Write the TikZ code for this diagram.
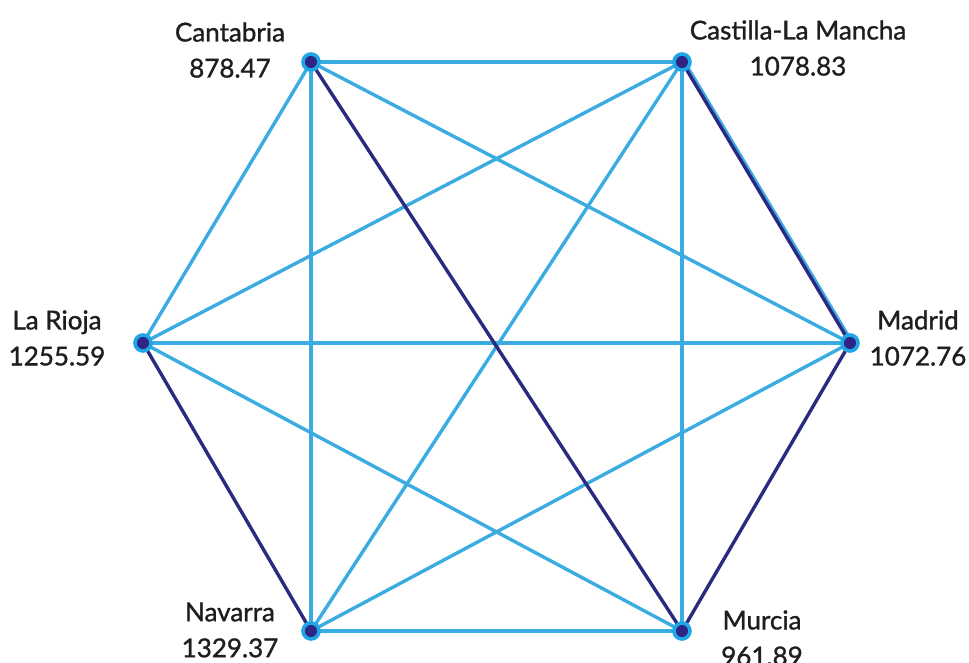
\documentclass[tikz,border=0pt]{standalone}
\usepackage{fontspec}
\setmainfont{Lato}[FakeBold=1.2]
\definecolor{lightb}{HTML}{3AACE2}
\definecolor{darkb}{HTML}{2A2A80}
\definecolor{ringb}{HTML}{1EA6E6}
\definecolor{dotb}{HTML}{2E2585}
\definecolor{txt}{HTML}{1E1E1E}
\begin{document}
\begin{tikzpicture}[x=1pt,y=-1pt,
  vtx/.style={circle,draw=ringb,fill=dotb,line width=3.6pt,minimum size=16pt,inner sep=0pt},
  lite/.style={lightb,line width=3.4pt},
  dark/.style={darkb,line width=3.4pt},
  lbl/.style={font=\fontsize{26}{36}\selectfont,text=txt,align=center,inner sep=0pt}]
\useasboundingbox (0,0) rectangle (969,662);
\coordinate (C) at (311,62);
\coordinate (M) at (682,62);
\coordinate (D) at (850,343);
\coordinate (U) at (682,631);
\coordinate (N) at (311,631);
\coordinate (R) at (143,343);
% light edges
\draw[lite] (C) -- (M);
\draw[lite] (C) -- (D);
\draw[lite] (C) -- (N);
\draw[lite] (C) -- (R);
\draw[lite] (M) -- (R);
\draw[lite] (M) -- (N);
\draw[lite] (M) -- (U);
\draw[lite] ([xshift=2.5pt]M) -- ([xshift=2.5pt]D);
\draw[lite] (D) -- (R);
\draw[lite] (D) -- (N);
\draw[lite] (R) -- (U);
\draw[lite] (N) -- (U);
% dark edges
\draw[dark] (C) -- (U);
\draw[dark] (M) -- (D);
\draw[dark] (D) -- (U);
\draw[dark] (R) -- (N);
% vertices
\node[vtx] (c) at (C) {};
\node[vtx] (m) at (M) {};
\node[vtx] (d) at (D) {};
\node[vtx] (u) at (U) {};
\node[vtx] (n) at (N) {};
\node[vtx] (r) at (R) {};
% labels
\node[lbl] (lc) at (230,50) {Cantabria\\878.47};
\node[lbl] (lm) at (798,48) {Castilla-La Mancha\\1078.83};
\node[lbl] (ld) at (918,338) {Madrid\\1072.76};
\node[lbl] (lu) at (762,638) {Murcia\\961.89};
\node[lbl] (ln) at (230,630) {Navarra\\1329.37};
\node[lbl] (lr) at (57,338) {La Rioja\\1255.59};
\end{tikzpicture}
\end{document}
